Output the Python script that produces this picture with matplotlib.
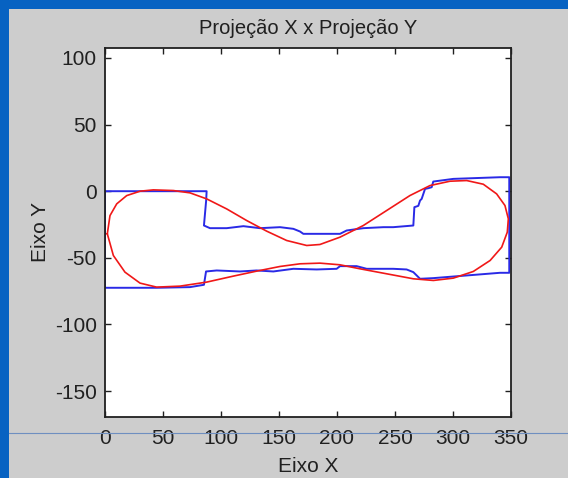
import matplotlib
matplotlib.use("Agg")
import matplotlib.pyplot as plt
from matplotlib.patches import Rectangle
from matplotlib.lines import Line2D

# blue contour (projection)
blue_x = [0, 87.6, 87.2, 85.3, 90.5, 104.9, 119.3, 133.6, 150.9, 162.4, 168.1, 171,
          202.6, 208.3, 222.7, 240, 248.5, 265.8, 266.7, 270.1, 271.6, 273, 275.9,
          278.7, 281.6, 283, 300.3, 340.5, 348.5,
          348.5, 340.5, 311.8, 283.1, 271.6, 265.8, 260, 248.5, 225.6, 216.9, 202.6,
          199.7, 182.5, 162.4, 145.1, 130.7, 116.4, 96.3, 87.1, 85.3, 73.3, 44.5, 0, 0]
blue_y = [0, 0, -7, -25.75, -27.75, -27.75, -26.25, -27.75, -27, -28.25, -30.25, -32,
          -32, -29.5, -27.75, -27, -27, -25.75, -12, -11, -7, -5.75, 1.75,
          2.25, 3, 7.25, 9.25, 10.5, 10.5,
          -61.25, -61.25, -63.25, -65.25, -65.75, -60.75, -58.75, -58.25, -58.25, -56.25,
          -56.25, -58.25, -58.75, -58.25, -60.25, -59.5, -60.25, -59.5, -60.25, -70.25,
          -72, -72.5, -72.5, 0]

# red fitted curve
red_x = [2, 4.3, 10.1, 18.7, 30.2, 41.7, 58.9, 73.3, 87.6, 104.9, 122.1, 139.4, 156.6,
         173.9, 185.3, 202.6, 222.7, 242.8, 262.9, 280.2, 297.4, 311.8, 326.1, 337.6,
         344.8, 347.7, 346.8, 342, 332, 317.5, 300.3, 283.1, 265.8, 242.8, 219.8, 202.6,
         185.3, 168.1, 150.9, 130.7, 110.6, 87.6, 64.7, 44.5, 30.2, 17.2, 7.2, 2]
red_y = [-32, -18.3, -9.5, -3.3, 0, 1, 0.5, -1.25, -5.75, -13.3, -22, -30, -37,
         -40.75, -40, -34.5, -25.75, -14.5, -3.25, 4.25, 7.5, 8, 5.25, -2,
         -10.75, -20.75, -30.75, -42, -52, -60.25, -65.25, -67, -65.75, -62, -58.25, -55.25,
         -54, -54.5, -56.5, -60, -63.75, -68.25, -71.25, -72, -69, -60.75, -48.25, -32]

x_ticks = [0, 50, 100, 150, 200, 250, 300, 350]
y_ticks = [100, 50, 0, -50, -100, -150]

plt.rcParams['font.family'] = ['Liberation Sans', 'DejaVu Sans']
plt.rcParams['axes.unicode_minus'] = False

fig = plt.figure(figsize=(5.68, 4.78), dpi=100)
fig.patch.set_facecolor('#0762c2')
# grey figure panel on top of the blue slide
fig.add_artist(Rectangle((9 / 568, 0), 1, 469 / 478, transform=fig.transFigure,
                         facecolor='#cdcdcd', edgecolor='none', zorder=-10))

ax = fig.add_axes([105 / 568, 1 - 417 / 478, 406 / 568, 369 / 478])
ax.plot(blue_x, blue_y, color='#2a2ae6', lw=1.4)
ax.plot(red_x, red_y, color='#f01818', lw=1.2)

ax.set_xlim(0, 350)
ax.set_ylim(-169.5, 107.5)
ax.set_xticks(x_ticks)
ax.set_yticks(y_ticks)
ax.tick_params(direction='in', length=4, width=1, top=True, right=True,
               labelsize=15, pad=6, colors='#202020')
ax.tick_params(axis='x', pad=9)
for s in ax.spines.values():
    s.set_linewidth(1.3)
    s.set_color('#202020')

ax.set_title('Projeção X x Projeção Y', fontsize=14.5, pad=10, color='#202020')
ax.set_xlabel('Eixo X', fontsize=15, labelpad=6, color='#202020')
ax.set_ylabel('Eixo Y', fontsize=15, labelpad=3, color='#202020')

# thin slide guide line crossing the figure
fig.add_artist(Line2D([9 / 568, 1], [1 - 433 / 478] * 2, transform=fig.transFigure,
                      color='#6f8fc0', lw=0.8, zorder=5))

fig.savefig('out.png', dpi=100, facecolor=fig.get_facecolor())
